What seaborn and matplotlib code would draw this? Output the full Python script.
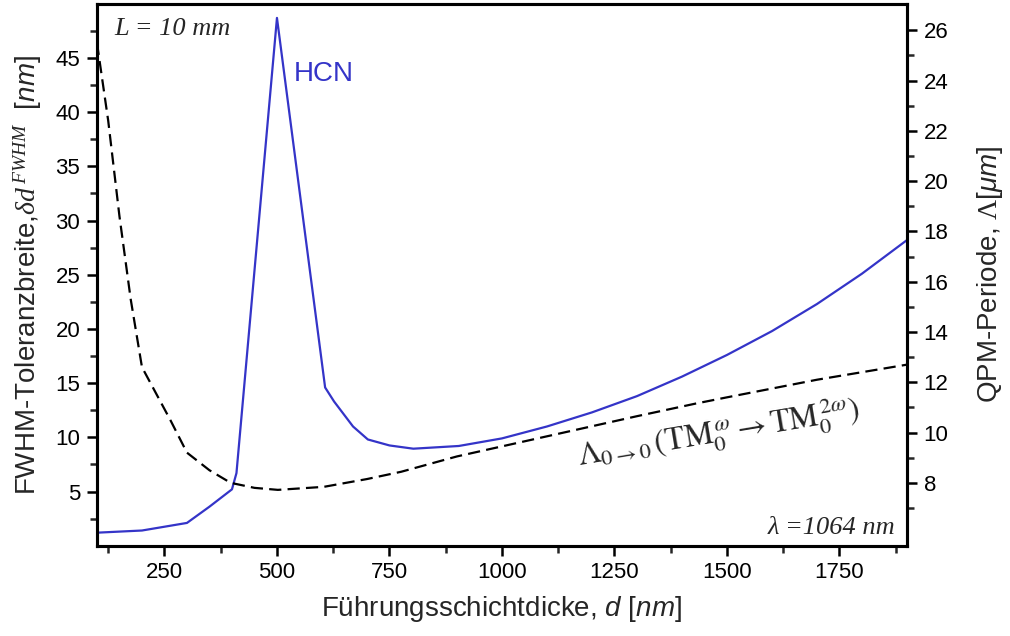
import numpy as np
import pandas as pd
import matplotlib
matplotlib.use("Agg")
import matplotlib.pyplot as plt
import seaborn as sns

# ---------------- data ----------------
hcn_d = [100, 200, 300, 350, 400, 410, 500, 607, 627, 669, 702, 750, 803, 904,
         1000, 1100, 1200, 1300, 1400, 1500, 1600, 1700, 1800, 1900]
hcn_fwhm = [1.2, 1.4, 2.1, 3.6, 5.2, 6.7, 48.7, 14.6, 13.3, 11.0, 9.8, 9.25, 8.95, 9.2,
            9.9, 11.0, 12.3, 13.8, 15.6, 17.6, 19.8, 22.3, 25.1, 28.2]

qpm_d = [100, 125, 150, 175, 200, 263, 300, 350, 397, 450, 502, 604, 700, 776,
         900, 1000, 1100, 1200, 1300, 1430, 1500, 1600, 1700, 1800, 1900]
qpm_period = [25.5, 22.4, 18.6, 15.3, 12.6, 10.5, 9.2, 8.5, 8.0, 7.8, 7.72, 7.84, 8.15, 8.44,
              9.05, 9.45, 9.85, 10.25, 10.65, 11.15, 11.4, 11.75, 12.1, 12.4, 12.7]

x_ticks = [250, 500, 750, 1000, 1250, 1500, 1750]
left_ticks = [5, 10, 15, 20, 25, 30, 35, 40, 45]
right_ticks = [8, 10, 12, 14, 16, 18, 20, 22, 24, 26]

# ---------------- style ----------------
sns.set_theme(style="ticks")
plt.rcParams["font.family"] = ["Liberation Sans", "DejaVu Sans"]
plt.rcParams["mathtext.fontset"] = "custom"
plt.rcParams["mathtext.rm"] = "Liberation Serif"
plt.rcParams["mathtext.it"] = "Liberation Serif:italic"
plt.rcParams["mathtext.bf"] = "Liberation Serif:bold"
plt.rcParams["mathtext.sf"] = "Liberation Sans:italic"

blue = "#3434c8"

fig = plt.figure(figsize=(10.10, 6.36), dpi=100)
ax = fig.add_axes([0.096, 0.142, 0.802, 0.852])
ax2 = ax.twinx()

df1 = pd.DataFrame({"d": hcn_d, "fwhm": hcn_fwhm})
df2 = pd.DataFrame({"d": qpm_d, "period": qpm_period})

sns.lineplot(data=df1, x="d", y="fwhm", ax=ax, color=blue, linewidth=1.6,
             estimator=None, sort=False)
sns.lineplot(data=df2, x="d", y="period", ax=ax2, color="black", linewidth=1.6,
             estimator=None, sort=False)
for ln in ax2.get_lines():
    ln.set_dashes((5.5, 2.8))

ax.set_xlim(100, 1900)
ax.set_ylim(0, 50)
ax2.set_ylim(5.5, 27.05)

ax.set_xticks(x_ticks)
ax.set_xticks(np.arange(125, 1900, 125), minor=True)
ax.set_yticks(left_ticks)
ax.set_yticks(np.arange(2.5, 50, 2.5), minor=True)
ax2.set_yticks(right_ticks)
ax2.set_yticks(np.arange(7, 27, 2), minor=True)

for a in (ax, ax2):
    for sp in a.spines.values():
        sp.set_linewidth(2.2)
        sp.set_color("black")
    a.tick_params(which="major", direction="out", length=7, width=1.8,
                  labelsize=16, colors="black", pad=5)
    a.tick_params(which="minor", direction="out", length=5, width=1.8)

ax.set_xlabel(r"Führungsschichtdicke, $\mathsf{d}$ [$\mathsf{nm}$]", fontsize=20, labelpad=8)
ax.set_ylabel(r"FWHM-Toleranzbreite,$\mathit{\delta d}^{\,FWHM}$  [$\mathsf{nm}$]",
              fontsize=20, labelpad=8)
ax2.set_ylabel(r"QPM-Periode, $\mathit{\Lambda}$[$\mathsf{\mu m}$]", fontsize=20, labelpad=19)

ax.text(0.022, 0.953, "L = 10 mm", transform=ax.transAxes, ha="left", va="center",
        fontfamily="Liberation Serif", fontstyle="italic", fontsize=19)
ax.text(537, 43.5, "HCN", color=blue, ha="left", va="center", fontsize=20)
ax.text(0.985, 0.033, "λ =1064 nm", transform=ax.transAxes, ha="right", va="center",
        fontfamily="Liberation Serif", fontstyle="italic", fontsize=19)
ax.text(1482, 10.4,
        r"$\mathrm{\Lambda}_{0\rightarrow 0}\,(\mathrm{TM}_0^{\,\omega}\rightarrow \mathrm{TM}_0^{\,2\omega})$",
        rotation=9.5, rotation_mode="anchor", ha="center", va="center", fontsize=23,
        math_fontfamily="stix")

fig.savefig("out.png", dpi=100)
